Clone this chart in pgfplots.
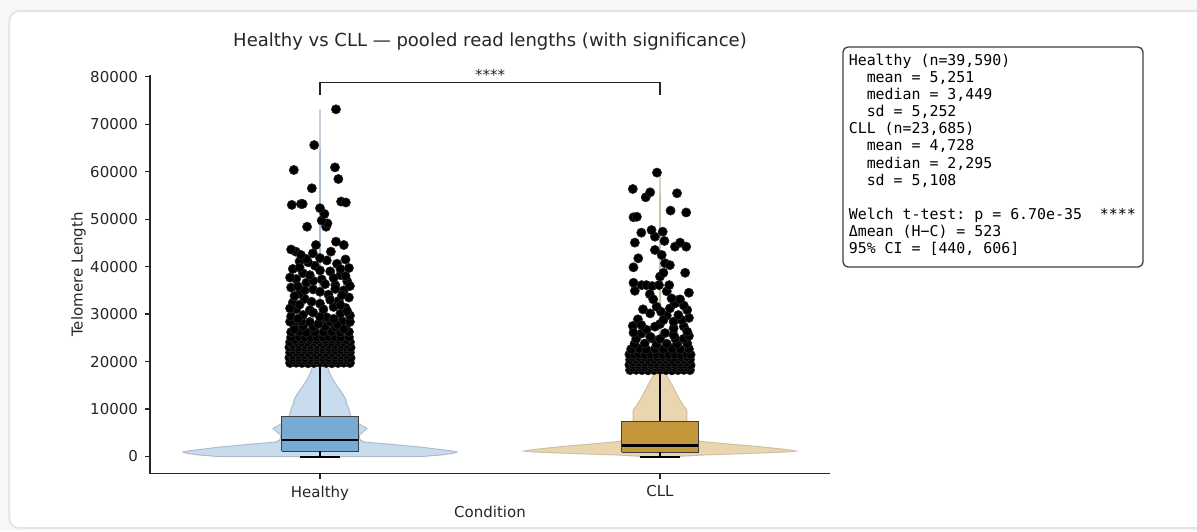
\documentclass[border=0pt]{standalone}
\usepackage{pgfplots}
\pgfplotsset{compat=1.18}
\usepackage{fontspec}
\setmainfont{DejaVu Sans}
\setmonofont{DejaVu Sans Mono}
\definecolor{bg}{RGB}{247,247,247}
\definecolor{cardline}{RGB}{228,228,228}
\definecolor{hviolin}{RGB}{201,220,238}
\definecolor{hvedge}{RGB}{172,188,204}
\definecolor{hbox}{RGB}{120,170,210}
\definecolor{cviolin}{RGB}{233,214,174}
\definecolor{cvedge}{RGB}{204,192,166}
\definecolor{cbox}{RGB}{196,150,60}
\definecolor{txt}{RGB}{38,38,38}

\pgfplotstableread{
x y
-0.088 19700
-0.070 19750
-0.053 19700
-0.035 19650
-0.018 19700
0.000 19750
0.018 19700
0.035 19650
0.053 19700
0.070 19750
0.088 19700
-0.080 20250
-0.062 20300
-0.044 20250
-0.027 20200
-0.009 20250
0.009 20300
0.027 20250
0.044 20200
0.062 20250
0.080 20300
-0.090 20800
-0.079 20850
-0.061 20800
-0.044 20750
-0.026 20800
-0.009 20850
0.009 20800
0.026 20750
0.044 20800
0.061 20850
0.079 20800
0.090 20750
-0.080 21350
-0.062 21400
-0.044 21350
-0.027 21300
-0.009 21350
0.009 21400
0.027 21350
0.044 21300
0.062 21350
0.080 21400
-0.088 21900
-0.070 21950
-0.053 21900
-0.035 21850
-0.018 21900
0.000 21950
0.018 21900
0.035 21850
0.053 21900
0.070 21950
0.088 21900
-0.080 22450
-0.062 22500
-0.044 22450
-0.027 22400
-0.009 22450
0.009 22500
0.027 22450
0.044 22400
0.062 22450
0.080 22500
-0.090 23000
-0.079 23050
-0.061 23000
-0.044 22950
-0.026 23000
-0.009 23050
0.009 23000
0.026 22950
0.044 23000
0.061 23050
0.079 23000
0.090 22950
-0.080 23550
-0.062 23600
-0.044 23550
-0.027 23500
-0.009 23550
0.009 23600
0.027 23550
0.044 23500
0.062 23550
0.080 23600
-0.088 24100
-0.070 24150
-0.053 24100
-0.035 24050
-0.018 24100
0.000 24150
0.018 24100
0.035 24050
0.053 24100
0.070 24150
0.088 24100
-0.075 24600
-0.052 24650
-0.030 24600
-0.010 24550
0.015 24600
0.035 24650
0.055 24600
0.078 24550
-0.085 25100
-0.061 25200
-0.044 25100
-0.026 25050
-0.009 25150
0.009 25100
0.026 25200
0.044 25100
0.061 25050
0.085 25150
-0.085 26200
-0.060 26300
-0.040 26150
-0.015 26250
0.010 26200
0.035 26300
0.060 26150
0.085 26250
-0.075 27300
-0.050 27400
-0.020 27250
0.015 27350
0.045 27300
0.075 27400
-0.088 28400
-0.055 28500
-0.030 28350
0.000 28450
0.030 28400
0.065 28500
0.088 28350
-0.085 29500
-0.050 29800
0.020 29300
0.060 30100
0.088 29700
-0.070 31000
-0.030 30800
0.040 31500
0.075 31300
-0.080 32400
0.000 32200
0.055 32800
-0.045 33200
0.085 33500
-0.060 34300
0.025 34100
-0.020 35200
0.070 35000
-0.085 35600
0.045 36100
-0.040 36600
0.080 36900
-0.070 37400
0.005 37300
0.060 38200
-0.050 38600
0.030 39000
-0.080 39500
0.085 39700
-0.015 40200
0.050 40600
-0.060 41100
0.020 41300
-0.035 40900
-0.075 26800
0.070 26800
-0.005 27900
0.050 27800
-0.065 29000
0.000 29400
0.040 29000
-0.020 30300
0.080 30600
-0.088 31200
0.010 31000
0.060 31900
-0.060 32000
-0.025 32600
0.030 33000
-0.075 33800
0.065 34000
0.000 34700
-0.045 35000
0.045 35300
0.088 35900
-0.065 35800
0.015 36300
-0.020 37000
0.040 37600
-0.088 37700
0.075 38000
-0.030 38200
0.000 39200
-0.060 39800
0.060 39500
-0.040 41600
0.075 41500
0.000 41800
-0.071 43150
-0.056 42450
-0.021 42800
0.032 43150
-0.085 43600
-0.012 44550
0.070 44550
0.047 45250
-0.038 48400
0.018 48400
0.022 49100
0.005 49700
0.013 51100
0.000 52300
-0.083 53000
-0.056 53200
-0.051 53200
0.062 53700
0.076 53500
-0.024 56500
0.054 58450
0.044 60900
-0.077 60350
-0.017 65600
0.047 73130
}\healthypts

\pgfplotstableread{
x y
0.912 18200
0.930 18250
0.947 18200
0.965 18150
0.982 18200
1.000 18250
1.018 18200
1.035 18150
1.053 18200
1.070 18250
1.088 18200
0.920 18750
0.938 18800
0.956 18750
0.973 18700
0.991 18750
1.009 18800
1.027 18750
1.044 18700
1.062 18750
1.080 18800
0.910 19300
0.921 19350
0.939 19300
0.956 19250
0.974 19300
0.991 19350
1.009 19300
1.026 19250
1.044 19300
1.061 19350
1.079 19300
1.090 19250
0.920 19850
0.938 19900
0.956 19850
0.973 19800
0.991 19850
1.009 19900
1.027 19850
1.044 19800
1.062 19850
1.080 19900
0.912 20400
0.930 20450
0.947 20400
0.965 20350
0.982 20400
1.000 20450
1.018 20400
1.035 20350
1.053 20400
1.070 20450
1.088 20400
0.920 20950
0.938 21000
0.956 20950
0.973 20900
0.991 20950
1.009 21000
1.027 20950
1.044 20900
1.062 20950
1.080 21000
0.910 21500
0.925 21450
0.939 21550
0.956 21450
0.974 21500
0.991 21550
1.009 21500
1.026 21450
1.044 21500
1.062 21450
1.079 21550
1.090 21450
0.915 22600
0.940 22700
0.960 22550
0.985 22650
1.010 22600
1.035 22700
1.060 22550
1.085 22650
0.925 23700
0.955 23800
0.990 23650
1.020 23750
1.050 23700
1.080 23800
0.930 24800
0.975 24900
1.000 24750
1.045 24850
1.070 24800
1.085 25400
0.945 25900
1.015 26000
0.960 26700
1.070 27400
0.920 27500
1.000 27900
0.935 28900
1.085 29200
1.020 29700
0.950 31000
1.050 32900
1.085 34500
0.970 34200
1.020 34800
0.922 26100
0.971 25250
1.040 25600
1.080 26300
0.945 27700
1.040 27000
0.985 27350
1.010 28750
1.040 28400
1.064 28750
0.971 30150
1.080 30850
1.054 29800
1.003 30500
0.990 31550
1.029 31200
1.070 31800
1.044 32250
1.034 33300
1.059 33100
0.980 33100
0.926 34900
0.922 36600
0.946 36100
0.960 36100
0.977 35900
0.997 36100
1.027 36100
1.000 37900
1.010 38700
1.074 38700
1.015 40700
1.029 40300
0.922 39850
0.936 41750
1.005 42450
0.985 43500
1.044 44200
1.077 44200
0.926 45050
1.013 45400
1.059 45050
0.985 46300
0.945 47150
0.975 47700
1.008 47350
0.922 50400
0.932 50500
1.031 51800
1.077 51400
0.958 54600
0.971 55650
1.050 55450
0.920 56350
0.991 59800
}\cllpts

\begin{document}
\begin{tikzpicture}[x=1pt,y=1pt]
\useasboundingbox (0,0) rectangle (598.5,265.5);
\clip (0,0) rectangle (598.5,265.5);
\fill[bg] (0,0) rectangle (598.5,265.5);
\draw[cardline, line width=0.9pt, fill=white, rounded corners=5pt] (4.65,1.5) rectangle (640,260);
\begin{axis}[
 at={(75pt,28.65pt)}, anchor=south west, scale only axis,
 width=340pt, height=199.35pt,
 xmin=-0.5, xmax=1.5, ymin=-3620, ymax=80360,
 axis x line*=bottom, axis y line*=left,
 axis line style={txt, line width=0.6pt},
 xtick={0,1}, xticklabels={Healthy,CLL},
 ytick={0,10000,20000,30000,40000,50000,60000,70000,80000},
 scaled y ticks=false,
 yticklabel style={/pgf/number format/fixed, /pgf/number format/1000 sep={}},
 /pgf/number format/assume math mode=true,
 tick align=outside, major tick length=2.5pt,
 tick style={txt, line width=0.6pt},
 ticklabel style={font=\fontsize{7.5}{9}\selectfont, text=txt},
 clip=false,
]
% violins
\addplot[fill=hviolin, draw=hvedge, line width=0.5pt] coordinates {
(0.300,0) (0.360,350) (0.390,650) (0.403,950) (0.390,1150) (0.350,1500) (0.300,1950) (0.200,2630) (0.130,3050) (0.118,3500) (0.115,4500) (0.129,5300) (0.138,5900) (0.124,6500) (0.103,7300) (0.091,8500) (0.085,10000) (0.079,11000) (0.076,12000) (0.068,13000) (0.059,14000) (0.044,15500) (0.032,17000) (0.024,18500) (0.013,20000) (0.006,23000) (0.0025,28000) (0.0015,40000) (0.001,55000) (0.0005,73000)
(-0.0005,73000) (-0.001,55000) (-0.0015,40000) (-0.0025,28000) (-0.006,23000) (-0.013,20000) (-0.024,18500) (-0.032,17000) (-0.044,15500) (-0.059,14000) (-0.068,13000) (-0.076,12000) (-0.079,11000) (-0.085,10000) (-0.091,8500) (-0.103,7300) (-0.124,6500) (-0.138,5900) (-0.129,5300) (-0.115,4500) (-0.118,3500) (-0.130,3050) (-0.200,2630) (-0.300,1950) (-0.350,1500) (-0.390,1150) (-0.403,950) (-0.390,650) (-0.360,350) (-0.300,0) (0.300,0)
};
\addplot[fill=cviolin, draw=cvedge, line width=0.5pt] coordinates {
(1.050,0) (1.120,300) (1.200,500) (1.300,750) (1.370,950) (1.400,1150) (1.385,1350) (1.350,1650) (1.280,2150) (1.190,2700) (1.118,3200) (1.106,4000) (1.094,5000) (1.085,6500) (1.079,7500) (1.079,9800) (1.068,10800) (1.053,12600) (1.038,14700) (1.024,16500) (1.013,18000) (1.006,20000) (1.0025,25000) (1.0015,40000) (1.0005,60000)
(0.9995,60000) (0.9985,40000) (0.9975,25000) (0.994,20000) (0.987,18000) (0.976,16500) (0.962,14700) (0.947,12600) (0.932,10800) (0.921,9800) (0.921,7500) (0.915,6500) (0.906,5000) (0.894,4000) (0.882,3200) (0.810,2700) (0.720,2150) (0.650,1650) (0.615,1350) (0.600,1150) (0.630,950) (0.700,750) (0.800,500) (0.880,300) (0.950,0) (1.050,0)
};
% boxes
\addplot[fill=hbox, draw=black!75, line width=0.5pt] coordinates {(-0.112,1160) (0.112,1160) (0.112,8530) (-0.112,8530) (-0.112,1160)};
\addplot[fill=cbox, draw=black!75, line width=0.5pt] coordinates {(0.887,880) (1.113,880) (1.113,7480) (0.887,7480) (0.887,880)};
\addplot[black, line width=1.3pt] coordinates {(-0.112,3449) (0.112,3449)};
\addplot[black, line width=1.3pt] coordinates {(0.887,2295) (1.113,2295)};
% whiskers
\addplot[black, line width=1pt] coordinates {(0,8530) (0,19500)};
\addplot[black, line width=1pt] coordinates {(0,1160) (0,0)};
\addplot[black, line width=1pt] coordinates {(-0.058,0) (0.058,0)};
\addplot[black, line width=1pt] coordinates {(-0.058,19500) (0.058,19500)};
\addplot[black, line width=1pt] coordinates {(1,7480) (1,17900)};
\addplot[black, line width=1pt] coordinates {(1,880) (1,0)};
\addplot[black, line width=1pt] coordinates {(0.942,0) (1.058,0)};
\addplot[black, line width=1pt] coordinates {(0.942,17900) (1.058,17900)};
% outliers
\addplot[only marks, mark=*, mark size=2.3pt, mark options={fill=black, draw=black!85, line width=0.3pt}] table[x=x,y=y] {\healthypts};
\addplot[only marks, mark=*, mark size=2.3pt, mark options={fill=black, draw=black!85, line width=0.3pt}] table[x=x,y=y] {\cllpts};
% significance bracket
\addplot[txt, line width=0.6pt] coordinates {(0,76200) (0,78700) (1,78700) (1,76200)};
\node[anchor=base, font=\fontsize{7.5}{9}\selectfont, text=txt, yshift=1.1pt] at (axis cs:0.5,78700) {****};
\end{axis}
% titles and labels
\node[anchor=base, font=\fontsize{9}{11}\selectfont, text=txt] at (245,242.25) {Healthy vs CLL — pooled read lengths (with significance)};
\node[anchor=base, font=\fontsize{7.5}{9}\selectfont, text=txt] at (245,6.75) {Condition};
\node[anchor=base, rotate=90, font=\fontsize{7.5}{9}\selectfont, text=txt] at (41.25,128.3) {Telomere Length};
% stats box
\draw[black!75, line width=0.65pt, fill=white, rounded corners=2.5pt] (421.5,132) rectangle (571.5,242);
\begin{scope}[every node/.style={anchor=base west, inner sep=0pt, font=\ttfamily\fontsize{7.45}{8.5}\selectfont, text=black}]
\node at (424.2,232.75) {Healthy (n=39,590)};
\node at (424.2,224.20) {\phantom{xx}mean = 5,251};
\node at (424.2,215.65) {\phantom{xx}median = 3,449};
\node at (424.2,207.10) {\phantom{xx}sd = 5,252};
\node at (424.2,198.55) {CLL (n=23,685)};
\node at (424.2,190.00) {\phantom{xx}mean = 4,728};
\node at (424.2,181.45) {\phantom{xx}median = 2,295};
\node at (424.2,172.90) {\phantom{xx}sd = 5,108};
\node at (424.2,155.80) {Welch t-test: p = 6.70e-35\phantom{xx}****};
\node at (424.2,147.25) {Δmean (H−C) = 523};
\node at (424.2,138.70) {95\% CI = [440, 606]};
\end{scope}
\end{tikzpicture}
\end{document}
